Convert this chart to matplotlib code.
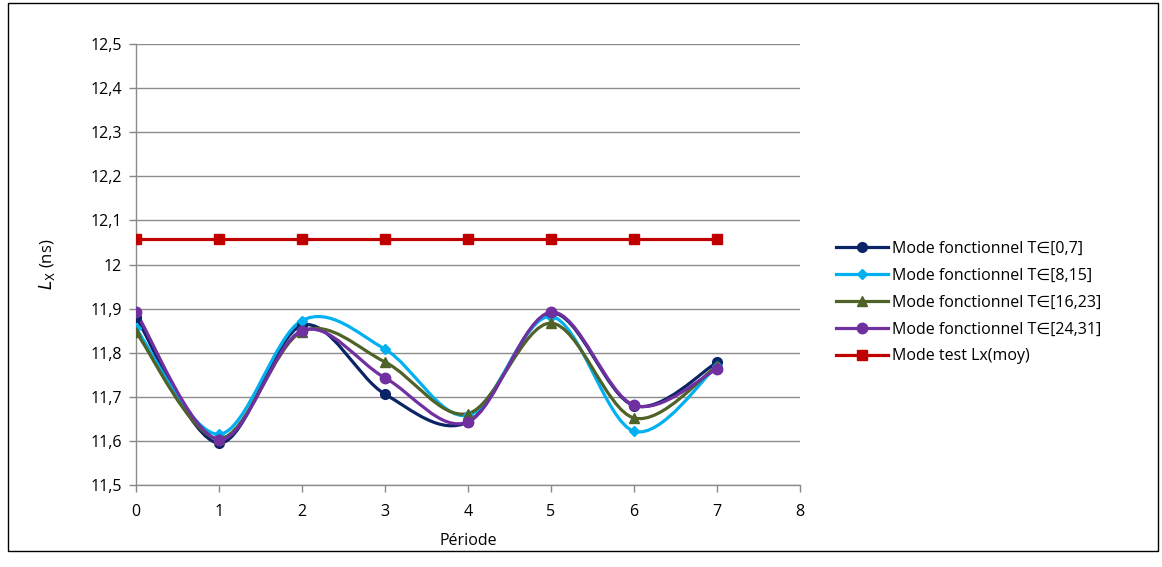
import matplotlib
matplotlib.use("Agg")
import matplotlib.pyplot as plt
from matplotlib.lines import Line2D
from matplotlib.path import Path
from matplotlib.patches import PathPatch, Rectangle
from matplotlib.ticker import FuncFormatter, MultipleLocator

plt.rcParams["font.family"] = ["Open Sans", "DejaVu Sans"]
plt.rcParams["mathtext.fontset"] = "dejavusans"

periode = [0, 1, 2, 3, 4, 5, 6, 7]
t_0_7 = [11.881, 11.595, 11.862, 11.706, 11.643, 11.890, 11.680, 11.778]
t_8_15 = [11.855, 11.615, 11.873, 11.808, 11.658, 11.882, 11.622, 11.770]
t_16_23 = [11.847, 11.605, 11.848, 11.779, 11.662, 11.867, 11.652, 11.770]
t_24_31 = [11.892, 11.603, 11.850, 11.743, 11.643, 11.892, 11.681, 11.763]
lx_moy = [12.057] * 8

labels = ["Mode fonctionnel T∈[0,7]", "Mode fonctionnel T∈[8,15]",
          "Mode fonctionnel T∈[16,23]", "Mode fonctionnel T∈[24,31]",
          "Mode test Lx(moy)"]
series = [t_0_7, t_8_15, t_16_23, t_24_31]
colors = ["#0B2466", "#00B0F0", "#4F6228", "#7030A0"]
markers = ["o", "D", "^", "o"]
msizes = [7, 5, 7.5, 7.5]


def smooth_path(xs, ys):
    # courbe lissée façon Excel (Bézier type Catmull-Rom)
    pts = list(zip(xs, ys))
    n = len(pts)
    verts = [pts[0]]
    codes = [Path.MOVETO]
    for i in range(n - 1):
        p0 = pts[max(i - 1, 0)]
        p1 = pts[i]
        p2 = pts[i + 1]
        p3 = pts[min(i + 2, n - 1)]
        c1 = (p1[0] + (p2[0] - p0[0]) / 6, p1[1] + (p2[1] - p0[1]) / 6)
        c2 = (p2[0] - (p3[0] - p1[0]) / 6, p2[1] - (p3[1] - p1[1]) / 6)
        verts += [c1, c2, p2]
        codes += [Path.CURVE4] * 3
    return Path(verts, codes)


fig = plt.figure(figsize=(11.62, 5.67), dpi=100)
ax = fig.add_axes([0.117, 0.1446, 0.5715, 0.7778])

handles = []
for ys, c, m, ms in zip(series, colors, markers, msizes):
    ax.add_patch(PathPatch(smooth_path(periode, ys), facecolor="none",
                           edgecolor=c, linewidth=2.3, zorder=3))
    ax.plot(periode, ys, linestyle="none", marker=m, markersize=ms,
            color=c, zorder=4)
    handles.append(Line2D([], [], color=c, linewidth=2.3, marker=m,
                          markersize=ms))

ax.plot(periode, lx_moy, color="#C00000", linewidth=2.3, marker="s",
        markersize=7, zorder=5)
handles.append(Line2D([], [], color="#C00000", linewidth=2.3, marker="s",
                      markersize=7))

ax.set_xlim(0, 8)
ax.set_ylim(11.5, 12.5)
ax.xaxis.set_major_locator(MultipleLocator(1))
ax.yaxis.set_major_locator(MultipleLocator(0.1))
ax.yaxis.set_major_formatter(FuncFormatter(lambda v, p: f"{v:.1f}".replace(".", ",").replace(",0", "")))
ax.tick_params(axis="both", labelsize=11.5, colors="#888888", labelcolor="black",
               length=5, width=1)
ax.tick_params(axis="y", pad=5)
ax.tick_params(axis="x", pad=9)
ax.grid(axis="y", color="#8c8c8c", linewidth=1)
ax.set_axisbelow(True)
for s in ["top", "right"]:
    ax.spines[s].set_visible(False)
for s in ["left", "bottom"]:
    ax.spines[s].set_color("#8c8c8c")
    ax.spines[s].set_linewidth(1)

ax.set_xlabel("Période", fontsize=11.5, labelpad=9)
ax.set_ylabel(r"$\mathit{L}_{\mathrm{X}}$ (ns)", fontsize=12, labelpad=24)

fig.legend(handles, labels, loc="upper left", bbox_to_anchor=(0.713, 0.589),
           frameon=False, fontsize=11.5, handlelength=3.2, labelspacing=0.68,
           handletextpad=0.3, borderpad=0)

fig.patches.append(Rectangle((0.0069, 0.0282), 0.9897, 0.9665,
                             transform=fig.transFigure, fill=False,
                             edgecolor="black", linewidth=1))

plt.savefig("out.png", dpi=100)
plt.close()
